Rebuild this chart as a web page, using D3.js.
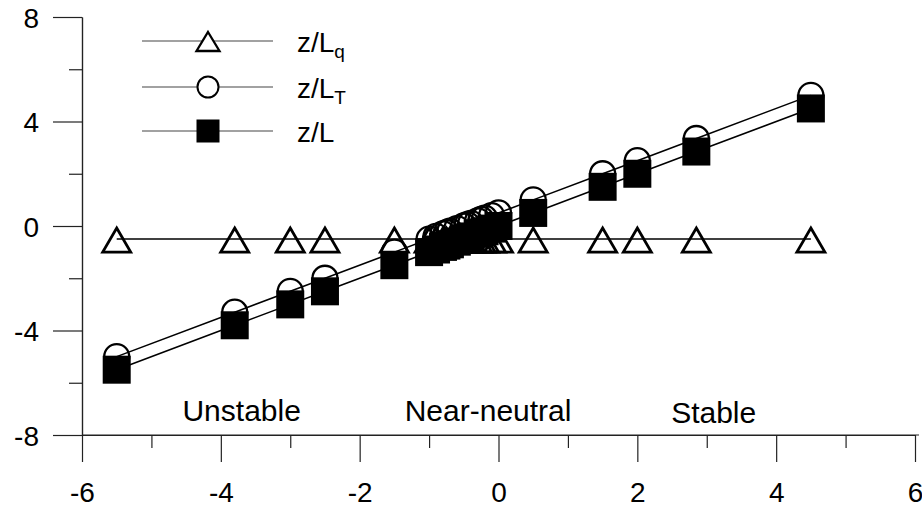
<!DOCTYPE html>
<html>
<head>
<meta charset="utf-8">
<script src="https://cdn.jsdelivr.net/npm/d3@7"></script>
<style>
body { margin: 0; background: #fff; }
svg text { font-family: "Liberation Sans", Arial, sans-serif; fill: #000; }
</style>
</head>
<body>
<div id="chart"></div>
<script>
var width = 922;
var height = 512;

// stability parameter on the x axis
var xVals = [-5.5, -3.8, -3, -2.5, -1.5, -1, -0.9, -0.8, -0.75, -0.7, -0.6, -0.5, -0.45, -0.4, -0.3, -0.25, -0.2, -0.1, 0, 0.5, 1.5, 2, 2.85, 4.5];
// z/Lq, z/LT and z/L for each x
var zLq = [-0.5, -0.5, -0.5, -0.5, -0.5, -0.5, -0.5, -0.5, -0.5, -0.5, -0.5, -0.5, -0.5, -0.5, -0.5, -0.5, -0.5, -0.5, -0.5, -0.5, -0.5, -0.5, -0.5, -0.5];
var zLT = [-5, -3.3, -2.5, -2, -1, -0.5, -0.4, -0.3, -0.25, -0.2, -0.1, 0, 0.05, 0.1, 0.2, 0.25, 0.3, 0.4, 0.5, 1, 2, 2.5, 3.35, 5];
var zL = [-5.5, -3.8, -3, -2.5, -1.5, -1, -0.9, -0.8, -0.75, -0.7, -0.6, -0.5, -0.45, -0.4, -0.3, -0.25, -0.2, -0.1, 0, 0.5, 1.5, 2, 2.85, 4.5];

var xMajor = [-6, -4, -2, 0, 2, 4, 6];
var xMinor = [-5, -3, -1, 1, 3, 5];
var yMajor = [-8, -4, 0, 4, 8];
var yMinor = [-6, -2, 2, 6];

var regionNames = ["Unstable", "Near-neutral", "Stable"];
var regionX = [-3.7, -0.15, 3.1];

var svg = d3.select("#chart")
  .append("svg")
  .attr("width", width)
  .attr("height", height);

var xScale = d3.scaleLinear().domain([-6, 6]).range([82, 915]);
var yScale = d3.scaleLinear().domain([-8, 8]).range([435, 17]);

// plain hyphen for negative numbers, like the original
var plain = function(d) { return String(d); };

// axes, ticks pointing outward
var xAxisMajor = d3.axisBottom(xScale).tickValues(xMajor).tickSize(27).tickPadding(20).tickSizeOuter(0).tickFormat(plain);
var xAxisMinor = d3.axisBottom(xScale).tickValues(xMinor).tickSize(13).tickFormat("").tickSizeOuter(0);
var yAxisMajor = d3.axisLeft(yScale).tickValues(yMajor).tickSize(29).tickPadding(14).tickSizeOuter(0).tickFormat(plain);
var yAxisMinor = d3.axisLeft(yScale).tickValues(yMinor).tickSize(13).tickFormat("").tickSizeOuter(0);

function styleAxis(g) {
  g.selectAll("path, line").attr("stroke", "#222").attr("stroke-width", 1.2);
  g.selectAll("text").attr("font-size", 28).attr("fill", "#000")
    .style("font-family", '"Liberation Sans", Arial, sans-serif');
}

svg.append("g").attr("transform", "translate(0," + yScale(-8) + ")").call(xAxisMinor).call(styleAxis);
svg.append("g").attr("transform", "translate(0," + yScale(-8) + ")").call(xAxisMajor).call(styleAxis)
  .select(".domain").attr("d", "M" + xScale(-6) + ",0H" + (xScale(6) + 4));
svg.append("g").attr("transform", "translate(" + xScale(-6) + ",0)").call(yAxisMinor).call(styleAxis);
var yg = svg.append("g").attr("transform", "translate(" + xScale(-6) + ",0)").call(yAxisMajor).call(styleAxis);
yg.selectAll(".tick text").attr("dy", "0.36em");

var idx = d3.range(xVals.length);

function lineFor(vals) {
  return d3.line()
    .x(function(i) { return xScale(xVals[i]); })
    .y(function(i) { return yScale(vals[i]); });
}

var triPath = "M0,-11L14,13L-14,13Z";

// z/Lq
svg.append("path").datum(idx).attr("d", lineFor(zLq))
  .attr("fill", "none").attr("stroke", "#000").attr("stroke-width", 1.6);
svg.selectAll(".tri").data(idx).enter().append("path")
  .attr("class", "tri")
  .attr("d", triPath)
  .attr("transform", function(i) { return "translate(" + xScale(xVals[i]) + "," + yScale(zLq[i]) + ")"; })
  .attr("fill", "none").attr("stroke", "#000").attr("stroke-width", 2.8);

// z/LT
svg.append("path").datum(idx).attr("d", lineFor(zLT))
  .attr("fill", "none").attr("stroke", "#000").attr("stroke-width", 1.6);
svg.selectAll(".circ").data(idx).enter().append("circle")
  .attr("class", "circ")
  .attr("cx", function(i) { return xScale(xVals[i]); })
  .attr("cy", function(i) { return yScale(zLT[i]); })
  .attr("r", 12.5)
  .attr("fill", "none").attr("stroke", "#000").attr("stroke-width", 2.3);

// z/L
svg.append("path").datum(idx).attr("d", lineFor(zL))
  .attr("fill", "none").attr("stroke", "#000").attr("stroke-width", 1.6);
svg.selectAll(".sq").data(idx).enter().append("rect")
  .attr("class", "sq")
  .attr("x", function(i) { return xScale(xVals[i]) - 14; })
  .attr("y", function(i) { return yScale(zL[i]) - 14; })
  .attr("width", 28).attr("height", 28)
  .attr("fill", "#000");

// region labels
svg.selectAll(".region").data(regionNames).enter().append("text")
  .attr("class", "region")
  .attr("x", function(d, i) { return xScale(regionX[i]); })
  .attr("y", function(d, i) { return i === 2 ? 423 : 421; })
  .attr("text-anchor", "middle")
  .attr("font-size", 30)
  .text(function(d) { return d; });

// legend
var legendY = [41, 87, 131];
var legendSub = ["q", "T", ""];
var legend = svg.append("g");
legendY.forEach(function(y, i) {
  legend.append("line").attr("x1", 142).attr("x2", 273).attr("y1", y).attr("y2", y)
    .attr("stroke", "#444").attr("stroke-width", 1.2);
  var t = legend.append("text").attr("x", 297).attr("y", y + 11).attr("font-size", 28);
  t.append("tspan").text("z/L");
  if (legendSub[i]) {
    t.append("tspan").attr("font-size", 19).attr("dy", 6).text(legendSub[i]);
  }
});
legend.append("path").attr("d", "M0,-9L11.5,10L-11.5,10Z")
  .attr("transform", "translate(208," + legendY[0] + ")")
  .attr("fill", "#fff").attr("stroke", "#000").attr("stroke-width", 2.3);
legend.append("circle").attr("cx", 208).attr("cy", legendY[1]).attr("r", 10.5)
  .attr("fill", "#fff").attr("stroke", "#000").attr("stroke-width", 2);
legend.append("rect").attr("x", 196.5).attr("y", legendY[2] - 11.5).attr("width", 23).attr("height", 23)
  .attr("fill", "#000");
</script>
</body>
</html>
